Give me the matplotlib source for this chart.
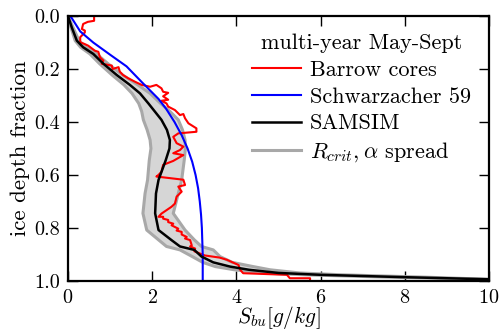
import matplotlib
matplotlib.use("Agg")
import matplotlib.pyplot as plt
import numpy as np

plt.rcParams['font.family'] = 'cmr10'
plt.rcParams['mathtext.fontset'] = 'cm'
plt.rcParams['axes.formatter.use_mathtext'] = True
plt.rcParams['font.size'] = 14.5

# Barrow cores (bulk salinity vs depth fraction)
barrow_s = [0.62, 0.62, 0.47, 0.36, 0.33, 0.40, 0.40, 0.29, 0.29, 0.40, 0.48, 0.64,
            0.72, 0.76, 0.84, 0.80, 1.04, 1.06, 1.20, 1.23, 1.31, 1.43, 1.59, 1.75,
            1.95, 2.10, 2.22, 2.26, 2.38, 2.26, 2.38, 2.22, 2.34, 2.38, 2.54, 2.66,
            2.74, 2.78, 2.86, 3.05, 3.05, 2.62, 2.50, 2.58, 2.74, 2.66, 2.50, 2.74,
            2.50, 2.26, 2.22, 2.15, 2.10, 2.74, 2.78, 2.62, 2.70, 2.58, 2.54, 2.46,
            2.34, 2.22, 2.15, 2.26, 2.26, 2.38, 2.38, 2.50, 2.46, 2.62, 2.58, 2.70,
            2.70, 2.82, 2.78, 2.90, 2.94, 2.90, 3.02, 3.00, 3.14, 3.25, 3.60, 3.77,
            4.05, 4.09, 4.16, 5.20, 5.27, 5.75, 5.75]
barrow_z = [0.000, 0.018, 0.022, 0.030, 0.049, 0.055, 0.062, 0.080, 0.099, 0.106, 0.112, 0.131,
            0.135, 0.156, 0.168, 0.180, 0.187, 0.200, 0.193, 0.210, 0.223, 0.235, 0.248, 0.260,
            0.267, 0.260, 0.273, 0.286, 0.290, 0.303, 0.316, 0.320, 0.330, 0.342, 0.355, 0.374,
            0.370, 0.386, 0.405, 0.424, 0.437, 0.443, 0.456, 0.480, 0.493, 0.506, 0.518, 0.525,
            0.547, 0.562, 0.588, 0.600, 0.606, 0.618, 0.638, 0.644, 0.663, 0.682, 0.708, 0.720,
            0.733, 0.746, 0.758, 0.758, 0.765, 0.770, 0.778, 0.784, 0.790, 0.803, 0.810, 0.815,
            0.825, 0.834, 0.840, 0.846, 0.866, 0.870, 0.878, 0.888, 0.897, 0.904, 0.912, 0.920,
            0.940, 0.958, 0.971, 0.977, 0.990, 0.990, 0.996]

# Schwarzacher (1959) profile
schw_z = [0.0, 0.008, 0.058, 0.1, 0.146, 0.19, 0.249, 0.313, 0.35, 0.4, 0.45, 0.5,
          0.55, 0.6, 0.65, 0.7, 0.75, 0.8, 0.85, 0.9, 1.0]
schw_s = [0.05, 0.09, 0.29, 0.60, 1.00, 1.39, 1.75, 2.15, 2.33, 2.53, 2.70, 2.84,
          2.95, 3.03, 3.09, 3.13, 3.16, 3.18, 3.19, 3.20, 3.20]

# SAMSIM reference run and spread envelope
samsim_z = [0.0, 0.043, 0.093, 0.118, 0.143, 0.18, 0.223, 0.26, 0.292, 0.33, 0.36, 0.392,
            0.43, 0.468, 0.5, 0.545, 0.619, 0.67, 0.745, 0.808, 0.845, 0.87, 0.883, 0.908,
            0.93, 0.946, 0.958, 0.97, 0.977, 0.986, 0.994]
samsim_s = [0.0, 0.09, 0.21, 0.36, 0.60, 0.84, 1.16, 1.47, 1.71, 1.91, 2.06, 2.22,
            2.35, 2.42, 2.41, 2.32, 2.15, 2.09, 2.07, 2.15, 2.45, 2.66, 3.0, 3.17,
            3.45, 3.85, 4.3, 5.0, 6.0, 8.0, 10.0]
spread_lo = [0.0, 0.07, 0.17, 0.30, 0.52, 0.75, 1.05, 1.33, 1.52, 1.68, 1.75, 1.79,
             1.88, 1.95, 1.97, 1.93, 1.89, 1.83, 1.78, 1.87, 2.15, 2.34, 2.66, 2.95,
             3.2, 3.5, 3.95, 4.6, 5.6, 7.6, 10.0]
spread_hi = [0.0, 0.12, 0.26, 0.43, 0.68, 0.95, 1.30, 1.66, 1.95, 2.20, 2.42, 2.62,
             2.72, 2.78, 2.79, 2.76, 2.70, 2.62, 2.50, 2.78, 3.0, 3.17, 3.45, 3.61,
             3.9, 4.4, 4.8, 5.5, 6.5, 8.5, 10.0]

fig = plt.figure(figsize=(5, 3.34), dpi=100)
ax = fig.add_axes([0.136, 0.159, 0.842, 0.793])

ax.fill_betweenx(samsim_z, spread_lo, spread_hi, color='#d6d6d6', lw=0)
ax.plot(spread_lo, samsim_z, color='#a8a8a8', lw=2.2)
ax.plot(spread_hi, samsim_z, color='#a8a8a8', lw=2.2)
ax.plot(barrow_s, barrow_z, color='red', lw=1.5, label='Barrow cores')
ax.plot(schw_s, schw_z, color='blue', lw=1.5, label='Schwarzacher 59')
ax.plot(samsim_s, samsim_z, color='black', lw=1.8, label='SAMSIM')
ax.plot([], [], color='#a8a8a8', lw=2.2, label=r'$R_{crit},\alpha$ spread')

ax.set_xlim(0, 10)
ax.set_ylim(1.0, 0.0)
ax.set_xticks([0, 2, 4, 6, 8, 10])
ax.set_yticks([0.0, 0.2, 0.4, 0.6, 0.8, 1.0])
ax.set_yticklabels(['0.0', '0.2', '0.4', '0.6', '0.8', '1.0'])
ax.tick_params(direction='in', length=7, width=1, top=True, right=True, pad=6)
for sp in ax.spines.values():
    sp.set_linewidth(1.6)

ax.set_xlabel(r'$S_{bu}[g/kg]$', fontsize=15.5, labelpad=-2)
ax.set_ylabel('ice depth fraction', fontsize=16.5, labelpad=3)

leg = ax.legend(title='multi-year May-Sept', loc='upper right', frameon=False,
                fontsize=16, handlelength=2.2, handletextpad=0.4, labelspacing=0.32,
                borderaxespad=0.4)
leg.get_title().set_fontsize(16)

fig.savefig('out.png', dpi=100)
